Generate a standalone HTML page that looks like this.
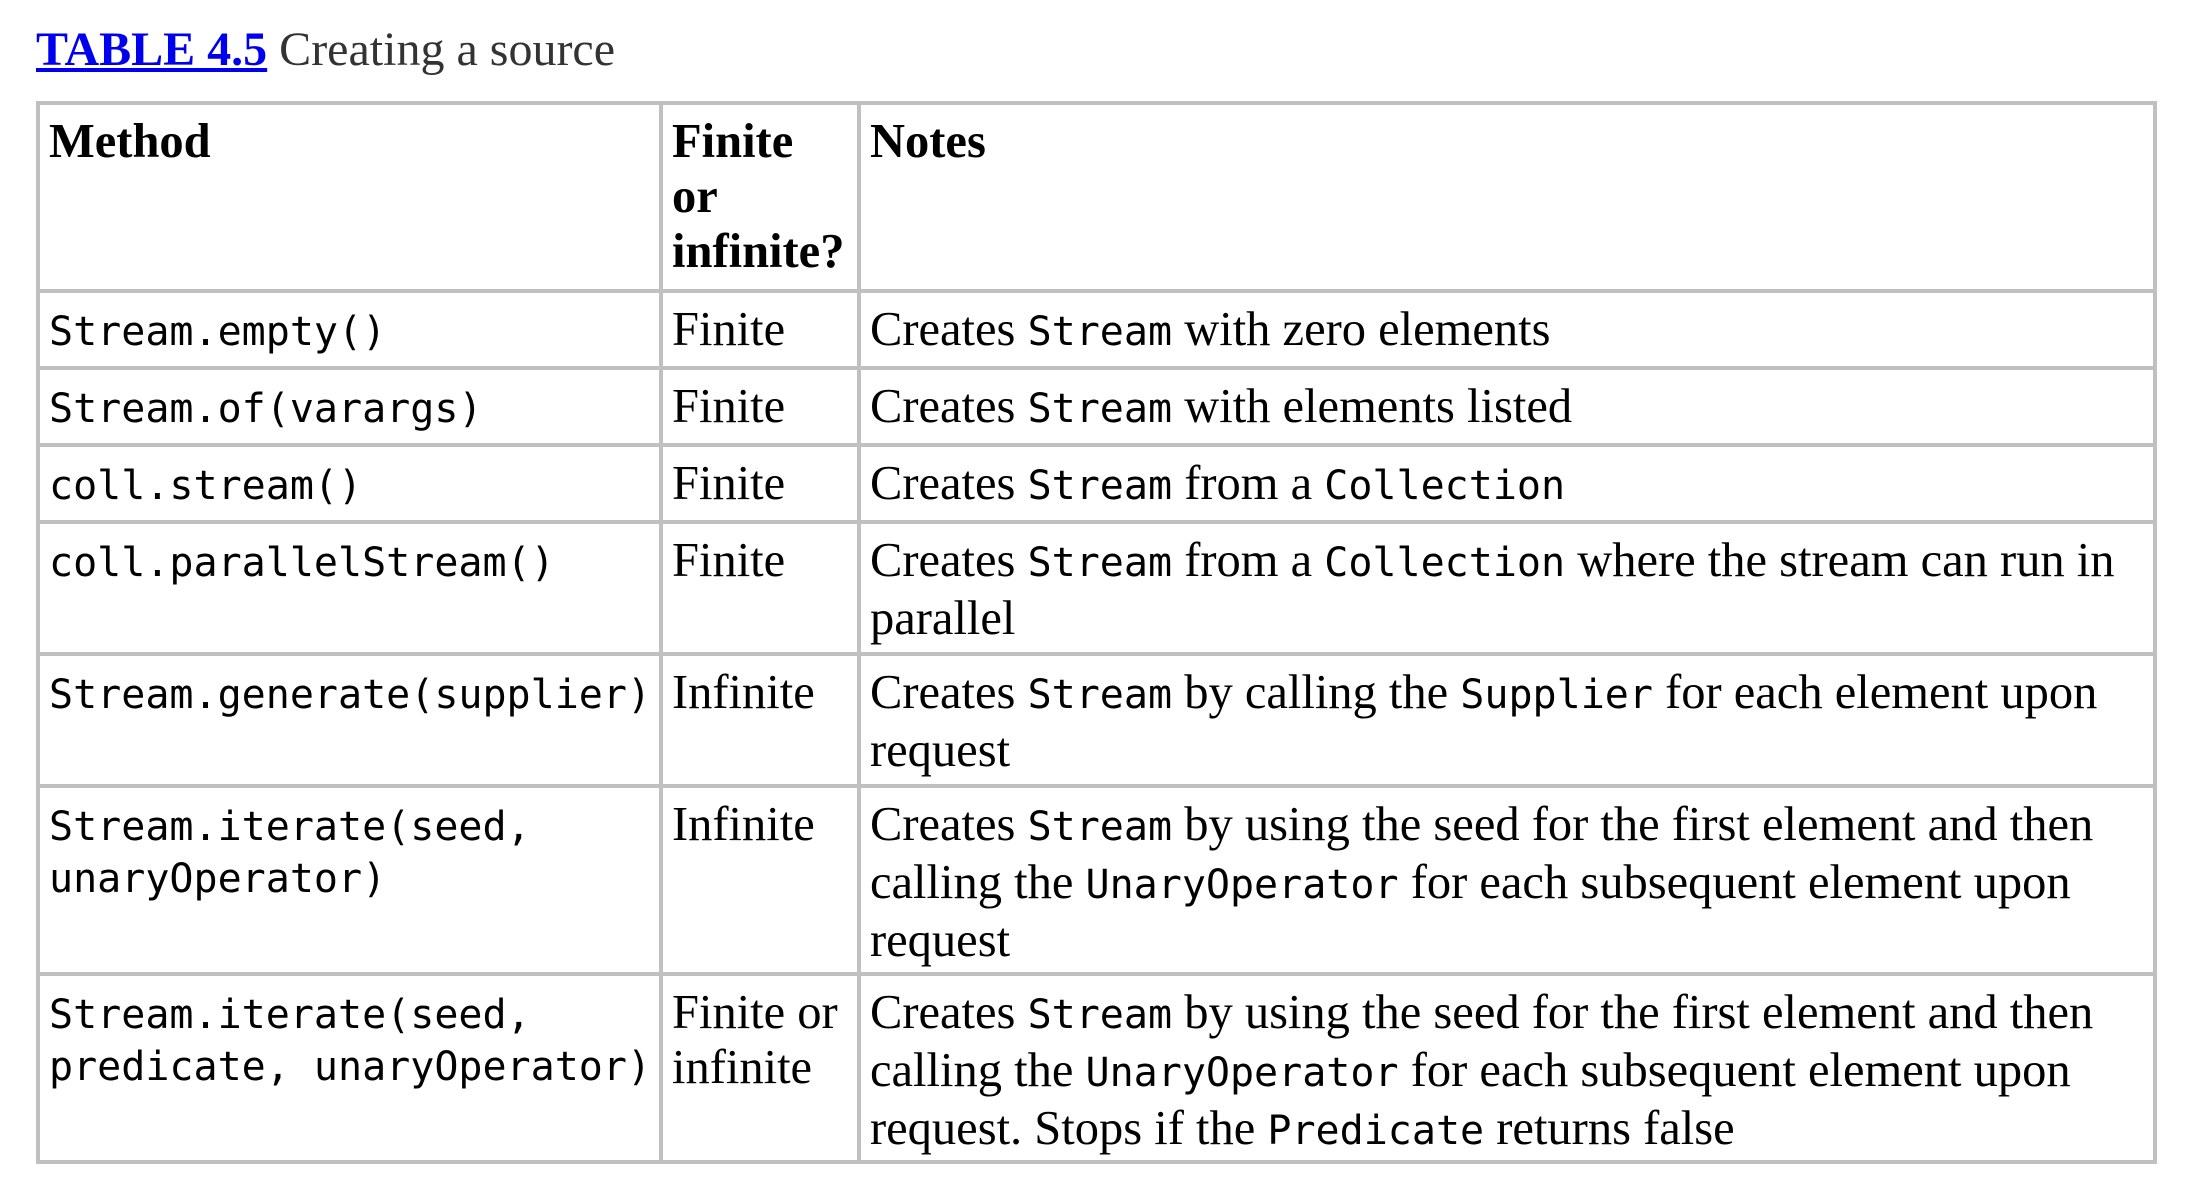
<!DOCTYPE html>
<html><head><meta charset="utf-8"><style>
body{margin:0;background:#fff;width:2195px;height:1197px;overflow:hidden;font-family:"Liberation Serif",serif;}
.title{position:absolute;left:36px;top:20px;font-size:48px;line-height:60px;color:#333;}
.title a{color:#00e;font-weight:bold;text-decoration:underline;}
table{position:absolute;left:36px;top:101px;border-collapse:collapse;table-layout:fixed;width:2121px;border:4px solid #c0c0c0;}
td,th{border:4px solid #c0c0c0;vertical-align:top;text-align:left;padding:9px 6px 0 9px;font-size:48.5px;line-height:55px;color:#000;}
th{font-weight:bold;}
code{font-family:"DejaVu Sans Mono","Liberation Mono",monospace;font-size:40px;}
td.m{line-height:49px;padding-top:12px;white-space:nowrap;}
</style></head><body>
<div class="title"><a>TABLE 4.5</a> Creating a source</div>
<table>
<colgroup><col style="width:623px"><col style="width:198px"><col></colgroup>
<tr style="height:188px"><th>Method</th><th>Finite or infinite?</th><th>Notes</th></tr>
<tr style="height:77px"><td class="m"><code>Stream.empty()</code></td><td>Finite</td><td>Creates <code>Stream</code> with zero elements</td></tr>
<tr style="height:77px"><td class="m"><code>Stream.of(varargs)</code></td><td>Finite</td><td>Creates <code>Stream</code> with elements listed</td></tr>
<tr style="height:77px"><td class="m"><code>coll.stream()</code></td><td>Finite</td><td>Creates <code>Stream</code> from a <code>Collection</code></td></tr>
<tr style="height:132px"><td class="m"><code>coll.parallelStream()</code></td><td>Finite</td><td>Creates <code>Stream</code> from a <code>Collection</code> where the stream can run in parallel</td></tr>
<tr style="height:132px"><td class="m"><code>Stream.generate(supplier)</code></td><td>Infinite</td><td>Creates <code>Stream</code> by calling the <code>Supplier</code> for each element upon request</td></tr>
<tr style="height:188px"><td class="m"><code>Stream.iterate(seed,<br>unaryOperator)</code></td><td>Infinite</td><td>Creates <code>Stream</code> by using the seed for the first element and then calling the <code>UnaryOperator</code> for each subsequent element upon request</td></tr>
<tr style="height:188px"><td class="m"><code>Stream.iterate(seed,<br>predicate, unaryOperator)</code></td><td>Finite or infinite</td><td>Creates <code>Stream</code> by using the seed for the first element and then calling the <code>UnaryOperator</code> for each subsequent element upon request. Stops if the <code>Predicate</code> returns false</td></tr>
</table>
</body></html>
